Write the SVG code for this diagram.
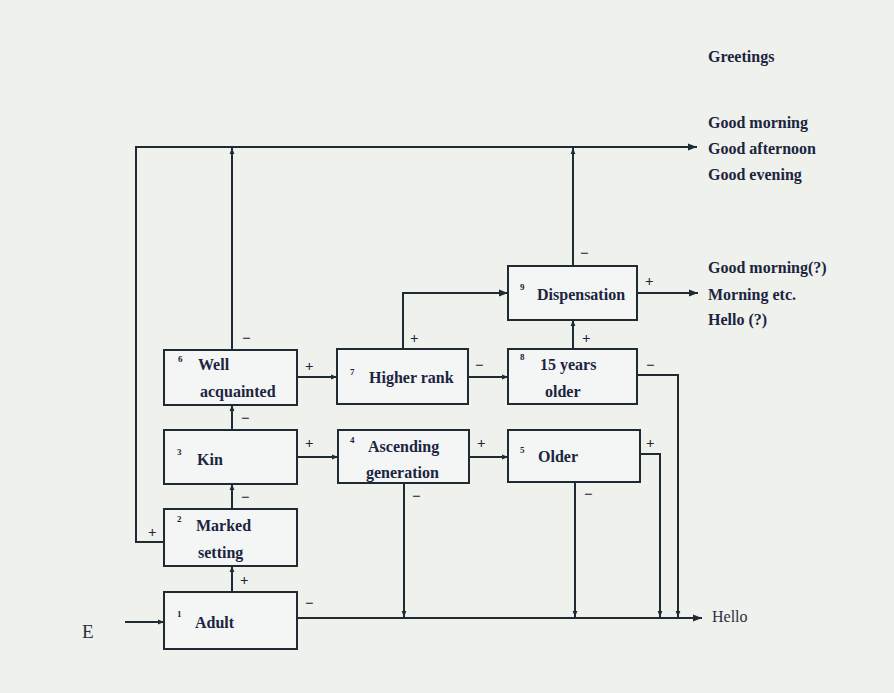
<svg xmlns="http://www.w3.org/2000/svg" width="894" height="693" viewBox="0 0 894 693">
<defs>
<marker id="ah" viewBox="0 0 10 10" refX="10" refY="5" markerWidth="9" markerHeight="9" markerUnits="userSpaceOnUse" orient="auto">
<path d="M0,1 L10,5 L0,9 Z" fill="#1e2b33"/>
</marker>
<marker id="ahs" viewBox="0 0 10 10" refX="10" refY="5" markerWidth="6" markerHeight="6" markerUnits="userSpaceOnUse" orient="auto">
<path d="M0,1 L10,5 L0,9 Z" fill="#1e2b33"/>
</marker>
</defs>
<style>
.bx{fill:#f3f6f5;stroke:#1e2b33;stroke-width:2}
.ln{fill:none;stroke:#1e2b33;stroke-width:2}
.t{font-family:"Liberation Serif","Times New Roman",serif;font-size:16px;font-weight:bold;fill:#1c2440}
.n{font-family:"Liberation Serif","Times New Roman",serif;font-size:9px;font-weight:bold;fill:#1c2440}
.s{font-family:"Liberation Serif","Times New Roman",serif;font-size:15px;font-weight:bold;fill:#1c2440}
.r{font-family:"Liberation Serif","Times New Roman",serif;font-size:16px;fill:#2a3040}
</style>
<rect width="894" height="693" fill="#eef1ec"/>
<g id="connectors">
<path class="ln" d="M164,542 H136 V147 H697" marker-end="url(#ah)"/>
<path class="ln" d="M232,350 V148" marker-end="url(#ahs)"/>
<path class="ln" d="M573,266 V148" marker-end="url(#ahs)"/>
<path class="ln" d="M403,349 V293 H508" marker-end="url(#ah)"/>
<path class="ln" d="M637,293 H698" marker-end="url(#ah)"/>
<path class="ln" d="M297,377 H337" marker-end="url(#ahs)"/>
<path class="ln" d="M468,377 H508" marker-end="url(#ahs)"/>
<path class="ln" d="M573,349 V320" marker-end="url(#ahs)"/>
<path class="ln" d="M637,375 H678 V617" marker-end="url(#ahs)"/>
<path class="ln" d="M640,454 H660 V617" marker-end="url(#ahs)"/>
<path class="ln" d="M575,482 V617" marker-end="url(#ahs)"/>
<path class="ln" d="M404,483 V617" marker-end="url(#ahs)"/>
<path class="ln" d="M297,457 H338" marker-end="url(#ahs)"/>
<path class="ln" d="M469,457 H508" marker-end="url(#ahs)"/>
<path class="ln" d="M232,430 V405" marker-end="url(#ahs)"/>
<path class="ln" d="M232,509 V484" marker-end="url(#ahs)"/>
<path class="ln" d="M232,592 V566" marker-end="url(#ahs)"/>
<path class="ln" d="M297,618 H702" marker-end="url(#ah)"/>
<path class="ln" d="M125,622 H164" marker-end="url(#ahs)"/>
<g class="s">
<text x="148" y="537">+</text>
<text x="242" y="343">−</text>
<text x="580" y="258">−</text>
<text x="410" y="343">+</text>
<text x="645" y="286">+</text>
<text x="305" y="371">+</text>
<text x="475" y="370">−</text>
<text x="582" y="343">+</text>
<text x="646" y="370">−</text>
<text x="646" y="448">+</text>
<text x="584" y="499">−</text>
<text x="412" y="501">−</text>
<text x="305" y="448">+</text>
<text x="477" y="448">+</text>
<text x="241" y="423">−</text>
<text x="241" y="502">−</text>
<text x="240" y="585">+</text>
<text x="305" y="608">−</text>
</g>
</g>
<g id="n6"><rect class="bx" x="164" y="350" width="133" height="55"/><text class="n" x="178" y="362">6</text><text class="t" x="198" y="370">Well</text><text class="t" x="200" y="397">acquainted</text></g>
<g id="n7"><rect class="bx" x="337" y="349" width="131" height="55"/><text class="n" x="350" y="375">7</text><text class="t" x="369" y="383">Higher rank</text></g>
<g id="n8"><rect class="bx" x="508" y="349" width="129" height="55"/><text class="n" x="520" y="360">8</text><text class="t" x="540" y="370">15 years</text><text class="t" x="545" y="397">older</text></g>
<g id="n9"><rect class="bx" x="508" y="266" width="129" height="54"/><text class="n" x="520" y="290">9</text><text class="t" x="537" y="300">Dispensation</text></g>
<g id="n3"><rect class="bx" x="164" y="430" width="133" height="54"/><text class="n" x="177" y="455">3</text><text class="t" x="197" y="465">Kin</text></g>
<g id="n4"><rect class="bx" x="338" y="430" width="131" height="53"/><text class="n" x="350" y="443">4</text><text class="t" x="368" y="452">Ascending</text><text class="t" x="366" y="478">generation</text></g>
<g id="n5"><rect class="bx" x="508" y="430" width="132" height="52"/><text class="n" x="520" y="453">5</text><text class="t" x="538" y="462">Older</text></g>
<g id="n2"><rect class="bx" x="164" y="509" width="133" height="57"/><text class="n" x="177" y="522">2</text><text class="t" x="196" y="531">Marked</text><text class="t" x="198" y="558">setting</text></g>
<g id="n1"><rect class="bx" x="164" y="592" width="133" height="57"/><text class="n" x="177" y="617">1</text><text class="t" x="195" y="628">Adult</text></g>
<g id="labels">
<text class="t" x="708" y="62">Greetings</text>
<text class="t" x="708" y="128">Good morning</text>
<text class="t" x="708" y="154">Good afternoon</text>
<text class="t" x="708" y="180">Good evening</text>
<text class="t" x="708" y="273">Good morning(?)</text>
<text class="t" x="708" y="300">Morning etc.</text>
<text class="t" x="708" y="325">Hello (?)</text>
<text class="r" x="712" y="622">Hello</text>
<text class="r" x="82" y="638" style="font-size:19px">E</text>
</g>
</svg>
